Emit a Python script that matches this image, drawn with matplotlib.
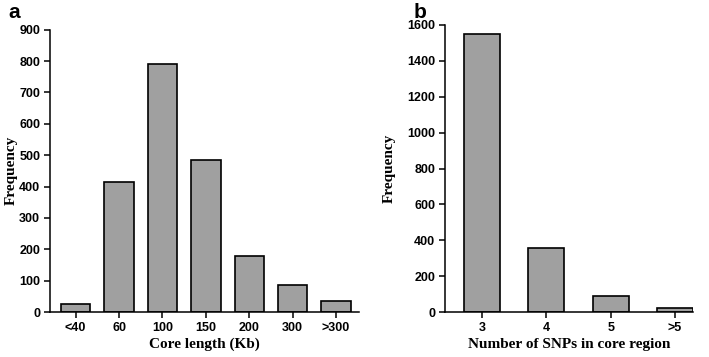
import matplotlib.pyplot as plt

# panel a: core length distribution
core_labels = ['<40', '60', '100', '150', '200', '300', '>300']
core_freq = [27, 415, 790, 485, 177, 87, 35]

# panel b: SNPs per core region
snp_labels = ['3', '4', '5', '>5']
snp_freq = [1551, 355, 90, 20]

bar_color = '#a0a0a0'
plt.rcParams['font.family'] = 'Liberation Sans'
plt.rcParams['font.weight'] = 'bold'
label_font = {'family': 'Liberation Serif', 'weight': 'bold', 'size': 11}

fig = plt.figure(figsize=(7.09, 3.57), dpi=100)
ax1 = fig.add_axes([0.0705, 0.126, 0.436, 0.791])
ax2 = fig.add_axes([0.6276, 0.126, 0.350, 0.804])


def style_axis(ax, labels, ymax, ystep, xlabel, ylab_x):
    ax.set_ylim(0, ymax)
    ax.set_yticks(range(0, ymax + 1, ystep))
    ax.set_xticks(range(len(labels)))
    ax.set_xticklabels(labels)
    ax.spines['top'].set_visible(False)
    ax.spines['right'].set_visible(False)
    ax.spines['left'].set_linewidth(1.1)
    ax.spines['bottom'].set_linewidth(1.1)
    ax.tick_params(direction='out', length=4, width=1.1, pad=3, labelsize=9)
    ax.set_xlabel(xlabel, fontdict=label_font, labelpad=3)
    ax.set_ylabel('Frequency', fontdict=label_font)
    ax.yaxis.set_label_coords(ylab_x, 0.5)


ax1.bar(range(len(core_labels)), core_freq, width=0.675, color=bar_color,
        edgecolor='black', linewidth=1.2)
ax1.set_xlim(-0.59, 6.53)
style_axis(ax1, core_labels, 900, 100, 'Core length (Kb)', -0.105)

ax2.bar(range(len(snp_labels)), snp_freq, width=0.56, color=bar_color,
        edgecolor='black', linewidth=1.2)
ax2.set_xlim(-0.575, 3.28)
style_axis(ax2, snp_labels, 1600, 200, 'Number of SNPs in core region', -0.2)

fig.text(0.012, 0.965, 'a', weight='bold', size=15, va='center')
fig.text(0.583, 0.965, 'b', weight='bold', size=15, va='center')

fig.savefig('out.png', dpi=100)
